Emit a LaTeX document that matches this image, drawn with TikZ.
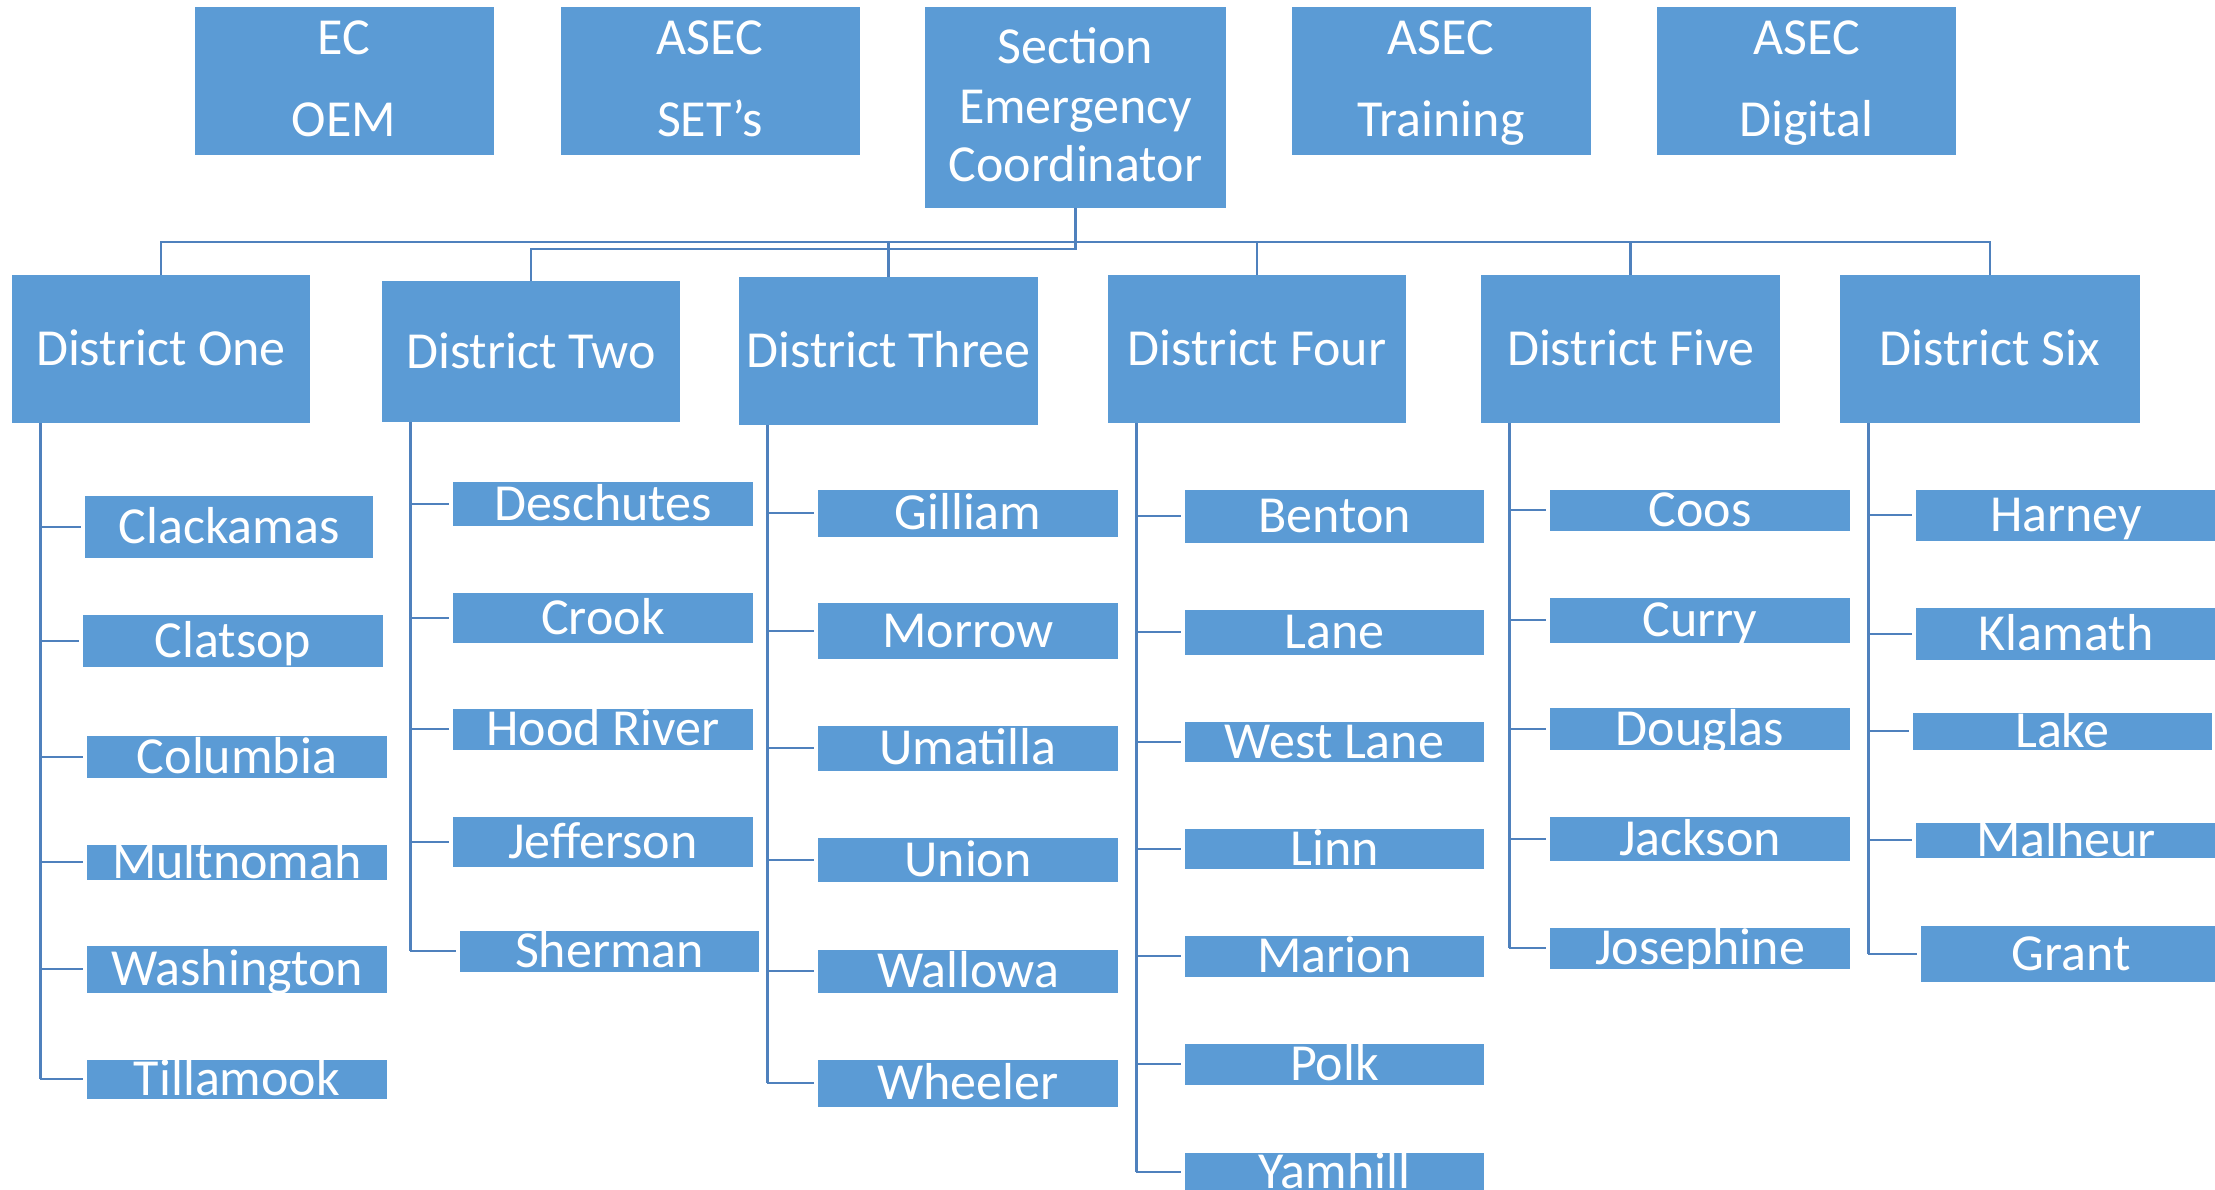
\documentclass[tikz,border=0pt]{standalone}
\usepackage{fontspec}
\setmainfont{Carlito}
\definecolor{boxblue}{HTML}{5B9BD5}
\definecolor{lineblue}{HTML}{4F81BD}
\newcommand\bigfnt{\fontsize{52}{60}\selectfont}
\begin{document}
\begin{tikzpicture}[x=1pt,y=-1pt,
  box/.style={fill=boxblue, text=white, inner sep=0pt, text height=33pt, text depth=0pt, font=\bigfnt},
  lbl/.style={text=white, inner sep=0pt, text height=33pt, text depth=0pt, font=\bigfnt},
  conn/.style={draw=lineblue, line width=2.6pt},
  cbox/.style args={#1/#2}{box, minimum width=#1pt, minimum height=#2pt}]
\useasboundingbox (0,0) rectangle (2215,1189);
\clip (0,0) rectangle (2215,1189);
% top row
\node[cbox=299/148] (ec) at (344,81) {};
\node[lbl] (ec1) at (344,38) {EC};
\node[lbl] (ec2) at (344,120) {OEM};
\node[cbox=299/148] (sets) at (710,81) {};
\node[lbl] (sets1) at (710,38) {ASEC};
\node[lbl] (sets2) at (710,120) {SET’s};
\node[cbox=301/201] (sec) at (1075.5,107.5) {};
\node[lbl] (sec1) at (1075.5,46.5) {Section};
\node[lbl] (sec2) at (1075.5,106.5) {Emergency};
\node[lbl] (sec3) at (1075.5,164.5) {Coordinator};
\node[cbox=299/148] (trn) at (1441,81) {};
\node[lbl] (trn1) at (1441,38) {ASEC};
\node[lbl] (trn2) at (1441,120) {Training};
\node[cbox=299/148] (dig) at (1806.5,81) {};
\node[lbl] (dig1) at (1806.5,38) {ASEC};
\node[lbl] (dig2) at (1806.5,120) {Digital};
% districts
\node[cbox=298/148] (d1) at (161,349) {District One};
\node[cbox=298/141] (d2) at (531,351.5) {District Two};
\node[cbox=299/148] (d3) at (888.5,351) {District Three};
\node[cbox=298/148] (d4) at (1257,349) {District Four};
\node[cbox=299/148] (d5) at (1630.5,349) {District Five};
\node[cbox=300/148] (d6) at (1990,349) {District Six};
% district connectors
\coordinate (bus) at (0,242);
\coordinate (bustwo) at (0,249);
\draw[conn] (d1.north) -- (d1.north |- bus) -- (d6.north |- bus) -- (d6.north);
\foreach \d in {d3,d4,d5} \draw[conn] (\d.north |- bus) -- (\d.north);
\draw[conn] (sec.south) -- (sec.south |- bustwo) -| (d2.north);
% column one
\node[cbox=288/62] (clackamas) at (229,527) {Clackamas};
\node[cbox=300/52] (clatsop) at (233,641) {Clatsop};
\node[cbox=300/42] (columbia) at (237,757) {Columbia};
\node[cbox=300/35] (multnomah) at (237,862) {Multnomah};
\node[cbox=300/47] (washington) at (237,969) {Washington};
\node[cbox=300/39] (tillamook) at (237,1079) {Tillamook};
% column two
\node[cbox=300/44] (deschutes) at (603,504) {Deschutes};
\node[cbox=300/50] (crook) at (603,618) {Crook};
\node[cbox=300/41] (hoodriver) at (603,729) {Hood River};
\node[cbox=300/50] (jefferson) at (603,842) {Jefferson};
\node[cbox=299/41] (sherman) at (609.5,951) {Sherman};
% column three
\node[cbox=300/47] (gilliam) at (968,513) {Gilliam};
\node[cbox=300/56] (morrow) at (968,631) {Morrow};
\node[cbox=300/45] (umatilla) at (968,748) {Umatilla};
\node[cbox=300/44] (union) at (968,860) {Union};
\node[cbox=300/43] (wallowa) at (968,971) {Wallowa};
\node[cbox=300/47] (wheeler) at (968,1083) {Wheeler};
% column four
\node[cbox=299/53] (benton) at (1334.5,516) {Benton};
\node[cbox=299/45] (lane) at (1334.5,632) {Lane};
\node[cbox=299/40] (westlane) at (1334.5,742) {West Lane};
\node[cbox=299/40] (linn) at (1334.5,849) {Linn};
\node[cbox=299/41] (marion) at (1334.5,956) {Marion};
\node[cbox=299/41] (polk) at (1334.5,1064) {Polk};
\node[cbox=299/38] (yamhill) at (1334.5,1172) {Yamhill};
% column five
\node[cbox=300/41] (coos) at (1700,510) {Coos};
\node[cbox=300/45] (curry) at (1700,620) {Curry};
\node[cbox=300/42] (douglas) at (1700,729) {Douglas};
\node[cbox=300/44] (jackson) at (1700,839) {Jackson};
\node[cbox=300/41] (josephine) at (1700,948) {Josephine};
% column six
\node[cbox=300/51] (harney) at (2066,515) {Harney};
\node[cbox=300/52] (klamath) at (2066,634) {Klamath};
\node[cbox=299/37] (lake) at (2062.5,731) {Lake};
\node[cbox=300/35] (malheur) at (2066,840) {Malheur};
\node[cbox=300/56] (grant) at (2071,954) {Grant};
% column connectors
\foreach \d/\last/\list in {
  d1/tillamook/{clackamas,clatsop,columbia,multnomah,washington,tillamook},
  d2/sherman/{deschutes,crook,hoodriver,jefferson,sherman},
  d3/wheeler/{gilliam,morrow,umatilla,union,wallowa,wheeler},
  d4/yamhill/{benton,lane,westlane,linn,marion,polk,yamhill},
  d5/josephine/{coos,curry,douglas,jackson,josephine},
  d6/grant/{harney,klamath,lake,malheur,grant}} {
  \coordinate (top\d) at ([xshift=28.5pt]\d.south west);
  \draw[conn] (top\d) -- (top\d |- \last.west);
  \foreach \c in \list \draw[conn] (top\d |- \c.west) -- ([xshift=-4pt]\c.west);
}
\end{tikzpicture}
\end{document}
